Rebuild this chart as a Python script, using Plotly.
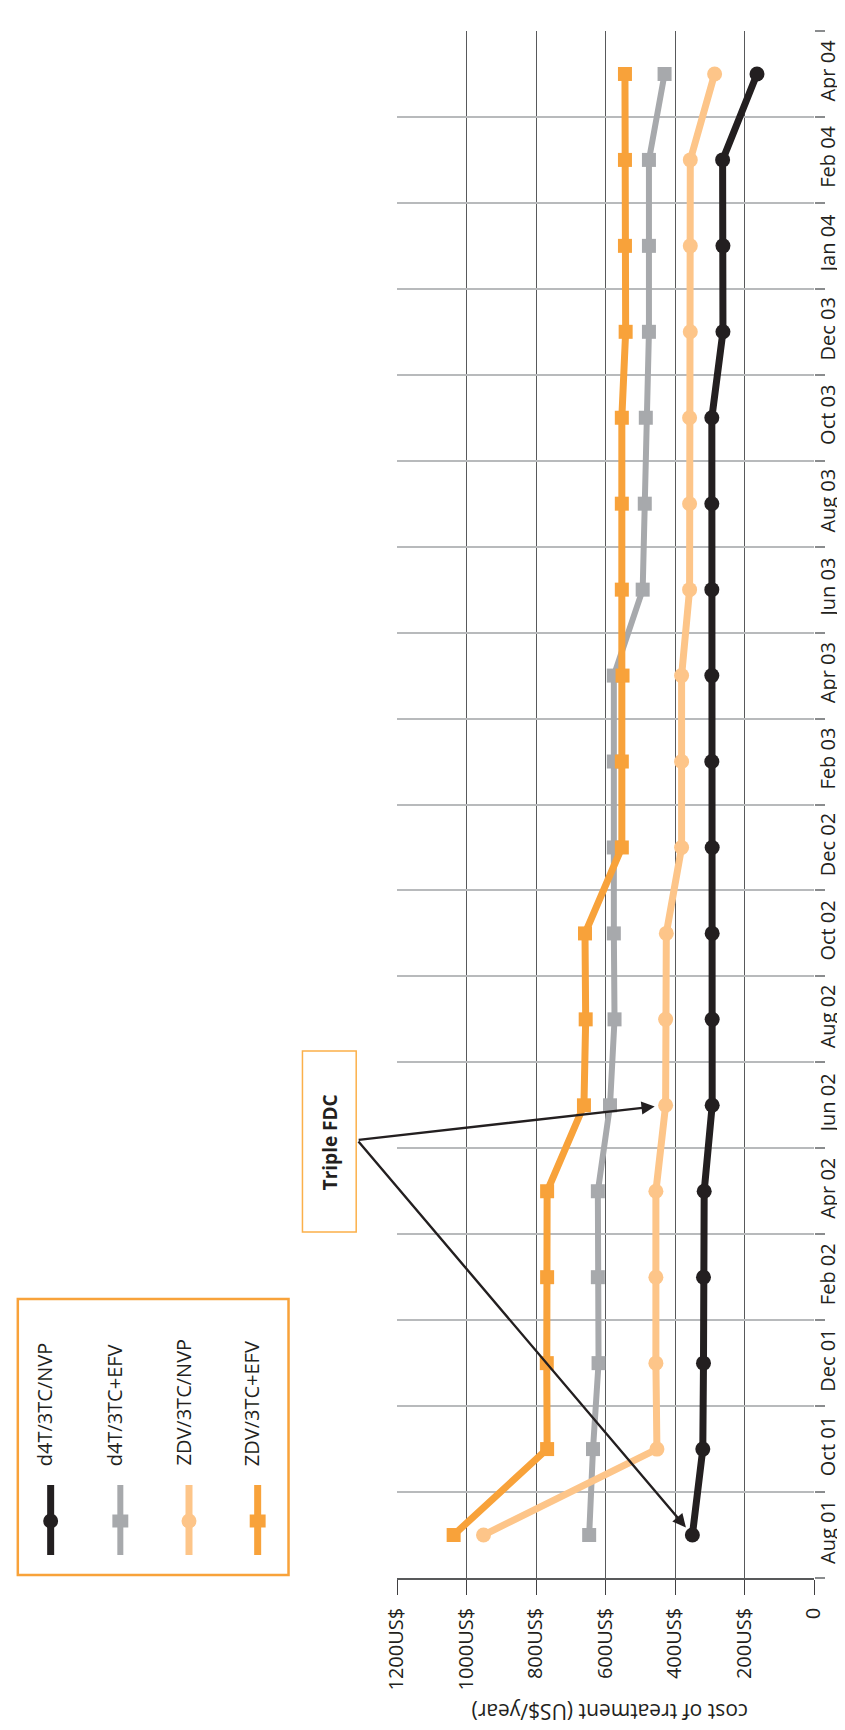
import plotly.graph_objects as go

# ---------------- data ----------------
months = ["Aug 01", "Oct 01", "Dec 01", "Feb 02", "Apr 02", "Jun 02", "Aug 02", "Oct 02",
          "Dec 02", "Feb 03", "Apr 03", "Jun 03", "Aug 03", "Oct 03", "Dec 03", "Jan 04",
          "Feb 04", "Apr 04"]
d4t_nvp = [350, 320, 318, 318, 316, 293, 293, 293, 293, 294, 294, 294, 294, 294, 262, 262, 263, 164]
d4t_efv = [647, 636, 620, 622, 622, 587, 574, 576, 576, 576, 576, 493, 487, 484, 475, 475, 475, 430]
zdv_nvp = [951, 452, 455, 455, 455, 427, 427, 425, 381, 381, 381, 358, 358, 358, 356, 356, 356, 286]
zdv_efv = [1037, 768, 769, 768, 768, 662, 657, 659, 553, 553, 551, 553, 553, 553, 542, 544, 544, 544]
series_names = ["d4T/3TC/NVP", "d4T/3TC+EFV", "ZDV/3TC/NVP", "ZDV/3TC+EFV"]
cost_ticks = [0, 200, 400, 600, 800, 1000, 1200]
cost_tick_labels = ["0", "200US$", "400US$", "600US$", "800US$", "1000US$", "1200US$"]
axis_title = "cost of treatment (US$/year)"
callout_text = "Triple FDC"

# ---------------- style ----------------
C_BLACK = "#231f20"
C_GREY = "#a7a9ac"
C_LORANGE = "#fdc589"
C_ORANGE = "#f8a23a"
FONT = "Open Sans"
FS = 20
W, H = 845, 1730
L, R, T, B = 389, 808, 23, 1570


def px(xp):
    return (xp - L) / (R - L)


def py(yp):
    return (B - yp) / (B - T)


styles = [
    dict(color=C_BLACK, symbol="circle", size=15, width=7),
    dict(color=C_GREY, symbol="square", size=14, width=6),
    dict(color=C_LORANGE, symbol="circle", size=15, width=7),
    dict(color=C_ORANGE, symbol="square", size=14, width=7),
]
values = [d4t_nvp, d4t_efv, zdv_nvp, zdv_efv]

fig = go.Figure()
for name, vals, st in zip(series_names, values, styles):
    fig.add_trace(go.Scatter(
        x=vals, y=months, name=name, mode="lines+markers",
        line=dict(color=st["color"], width=st["width"]),
        marker=dict(color=st["color"], symbol=st["symbol"], size=st["size"], line=dict(width=0)),
        showlegend=False, hoverinfo="skip"))

shapes = []
annotations = []

# legend box (rotated legend drawn by hand)
shapes.append(dict(type="rect", xref="paper", yref="paper",
                   x0=px(8), x1=px(280), y0=py(1567), y1=py(1291),
                   line=dict(color=C_ORANGE, width=2.5), fillcolor="rgba(0,0,0,0)"))
leg_x = [41, 111, 180, 249]
for i, (name, st) in enumerate(zip(series_names, styles)):
    cx = leg_x[i]
    shapes.append(dict(type="line", xref="paper", yref="paper",
                       x0=px(cx), x1=px(cx), y0=py(1477), y1=py(1547),
                       line=dict(color=st["color"], width=st["width"])))
    if st["symbol"] == "circle":
        shapes.append(dict(type="circle", xref="paper", yref="paper",
                           x0=px(cx - 7.5), x1=px(cx + 7.5), y0=py(1520.5), y1=py(1505.5),
                           line=dict(width=0), fillcolor=st["color"]))
    else:
        shapes.append(dict(type="rect", xref="paper", yref="paper",
                           x0=px(cx - 8), x1=px(cx + 8), y0=py(1519.5), y1=py(1506.5),
                           line=dict(width=0), fillcolor=st["color"]))
    annotations.append(dict(xref="paper", yref="paper", x=px(cx - 6), y=py(1460),
                            xanchor="center", yanchor="bottom", text=name, showarrow=False,
                            textangle=-90, font=dict(family=FONT, size=FS, color=C_BLACK)))

# callout box
shapes.append(dict(type="rect", xref="paper", yref="paper",
                   x0=px(294), x1=px(348), y0=py(1224), y1=py(1043),
                   line=dict(color="#fbb04a", width=1.5), fillcolor="white"))
annotations.append(dict(xref="paper", yref="paper", x=px(322), y=py(1134),
                        xanchor="center", yanchor="middle", text="<b>%s</b>" % callout_text,
                        showarrow=False, textangle=-90,
                        font=dict(family=FONT, size=19, color=C_BLACK)))

# arrows from callout to the first FDC points
tail_x = 1200 + (L - 349) * 1200 / (R - L)
tail_y = (B - 1132) / ((B - T) / len(months)) - 0.5
annotations.append(dict(x=zdv_nvp[5], y=months[5], xref="x", yref="y",
                        ax=tail_x, ay=tail_y, axref="x", ayref="y", text="",
                        showarrow=True, arrowhead=2, arrowsize=1.1, arrowwidth=2.4,
                        arrowcolor=C_BLACK, standoff=11))
annotations.append(dict(x=d4t_nvp[0], y=months[0], xref="x", yref="y",
                        ax=tail_x, ay=tail_y, axref="x", ayref="y", text="",
                        showarrow=True, arrowhead=2, arrowsize=1.1, arrowwidth=2.4,
                        arrowcolor=C_BLACK, standoff=10))

# axis title (upside-down, as in the rotated original)
annotations.append(dict(xref="paper", yref="paper", x=px(603), y=py(1704),
                        xanchor="center", yanchor="middle", text=axis_title, showarrow=False,
                        textangle=180, font=dict(family=FONT, size=21, color=C_BLACK)))

fig.update_layout(
    width=W, height=H,
    margin=dict(l=L, r=W - R, t=T, b=H - B, pad=0),
    plot_bgcolor="white", paper_bgcolor="white",
    font=dict(family=FONT, size=FS, color="#231f20"),
    shapes=shapes, annotations=annotations,
)
fig.update_xaxes(
    range=[1200, 0], tickmode="array", tickvals=cost_ticks, ticktext=cost_tick_labels,
    tickangle=-90, ticks="outside", ticklen=15, tickcolor="#414042", tickwidth=1.3,
    showgrid=True, gridcolor="#58595b", gridwidth=1.3,
    showline=True, linecolor="#58595b", linewidth=1.6, zeroline=False,
    ticklabelstandoff=5, tickfont=dict(family=FONT, size=FS, color="#231f20"),
)
fig.update_yaxes(
    type="category", categoryorder="array", categoryarray=months,
    range=[-0.5, len(months) - 0.5], side="right",
    tickangle=-90, ticks="outside", ticklen=10, tickson="boundaries",
    tickcolor="#8a8c8e", tickwidth=1.5,
    showgrid=True, gridcolor="#b8babc", gridwidth=1.6,
    showline=False, zeroline=False,
    tickfont=dict(family=FONT, size=FS, color="#231f20"),
)

fig.write_html("out.html")
